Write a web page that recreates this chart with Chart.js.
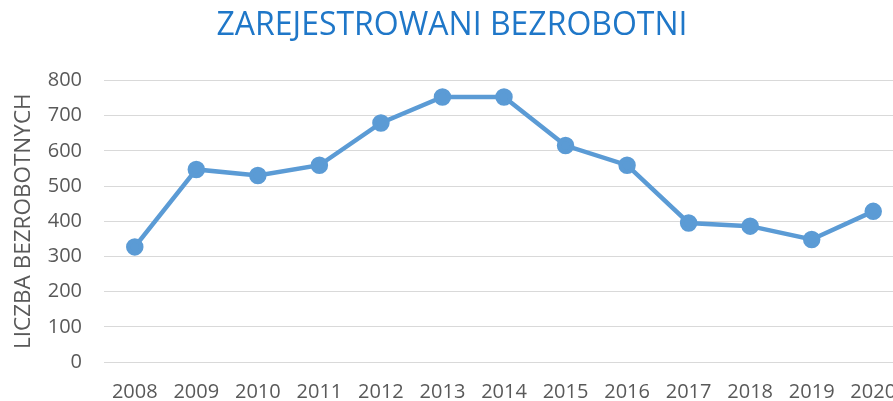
<!DOCTYPE html>
<html>
<head>
<meta charset="utf-8">
<script src="https://cdn.jsdelivr.net/npm/chart.js@4"></script>
<style>
html,body{margin:0;padding:0;background:#fff;overflow:hidden;width:893px;height:401px;}
canvas{display:block;}
</style>
</head>
<body>
<canvas id="c" width="904" height="404"></canvas>
<script>
const categories = ['2008','2009','2010','2011','2012','2013','2014','2015','2016','2017','2018','2019','2020'];
const unemployed = [327, 547, 530, 559, 679, 753, 753, 615, 559, 395, 386, 348, 428];
const chartTitle = 'ZAREJESTROWANI BEZROBOTNI';
const yTitle = 'LICZBA BEZROBOTNYCH';

const gray = '#595959';
new Chart(document.getElementById('c'), {
  type: 'line',
  data: {
    labels: categories,
    datasets: [{
      data: unemployed,
      borderColor: '#5b9bd5',
      backgroundColor: '#5b9bd5',
      pointBackgroundColor: '#5b9bd5',
      pointBorderColor: '#5b9bd5',
      borderWidth: 4.5,
      pointRadius: 6.5,
      tension: 0,
      fill: false
    }]
  },
  options: {
    responsive: false,
    animation: false,
    layout: { padding: 0, autoPadding: false },
    plugins: {
      legend: { display: false },
      tooltip: { enabled: false },
      title: {
        display: true,
        text: chartTitle,
        color: '#1f77c8',
        font: { family: 'Open Sans', size: 32, weight: 'normal', lineHeight: 1.2 },
        padding: { top: 7, bottom: 35 }
      }
    },
    scales: {
      x: {
        offset: true,
        afterFit(scale) { scale.height = 42; scale.paddingLeft = 0; scale.paddingRight = 0; },
        grid: { display: false, drawTicks: false },
        border: { display: false },
        ticks: { color: gray, padding: 20, maxRotation: 0, autoSkip: false,
          font: { family: 'Open Sans', size: 20, lineHeight: 1 } }
      },
      y: {
        min: 0, max: 800,
        afterFit(scale) { scale.width = 104; },
        grid: { color: '#d9d9d9', lineWidth: 1, drawTicks: false },
        border: { display: false },
        ticks: { stepSize: 100, color: gray, padding: 22,
          font: { family: 'Open Sans', size: 20 } },
        title: {
          display: true,
          text: yTitle,
          color: gray,
          padding: { top: 10.5, bottom: 0 },
          font: { family: 'Open Sans', size: 22.5, lineHeight: 1.2 }
        }
      }
    }
  }
});
</script>
</body>
</html>
